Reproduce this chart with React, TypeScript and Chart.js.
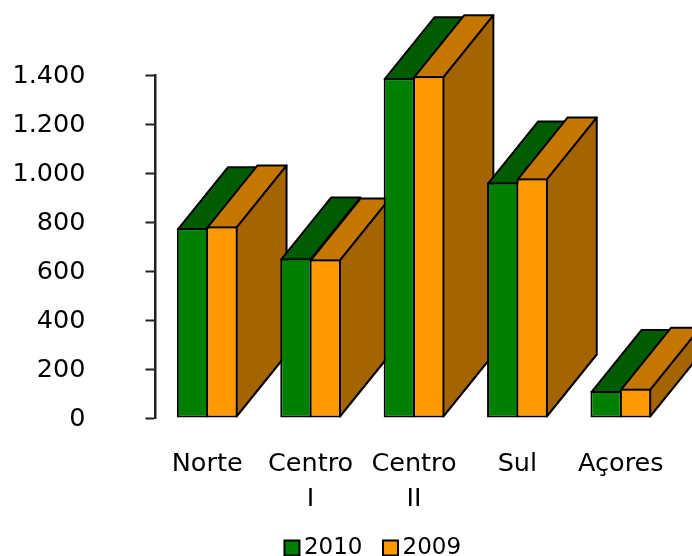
import React, { useEffect, useRef } from "react";
import { Chart, registerables } from "chart.js";

Chart.register(...registerables);

const categories = [["Norte"], ["Centro", "I"], ["Centro", "II"], ["Sul"], ["Açores"]];
const values2010 = [775, 652, 1388, 962, 110];
const values2009 = [782, 648, 1396, 978, 119];
const yTicksMax = 1400;

const legendShift = {
  id: "legendShift",
  afterLayout(chart: any) {
    chart.legend.left += 40;
    chart.legend.right += 40;
  },
};

const depthPlugin = {
  id: "depth",
  beforeDatasetsDraw(chart: any) {
    const ctx = chart.ctx;
    const dx = 50;
    const dy = -62;
    const a = chart.getDatasetMeta(0).data;
    const b = chart.getDatasetMeta(1).data;
    const inset = 1;
    const poly = (pts: number[][], fill: string) => {
      ctx.beginPath();
      pts.forEach((p, i) => (i ? ctx.lineTo(p[0], p[1]) : ctx.moveTo(p[0], p[1])));
      ctx.closePath();
      ctx.fillStyle = fill;
      ctx.fill();
      ctx.stroke();
    };
    ctx.save();
    ctx.strokeStyle = "#000";
    ctx.lineWidth = 2;
    ctx.lineJoin = "round";
    for (let i = 0; i < a.length; i++) {
      const g = a[i];
      const o = b[i];
      const gl = g.x - g.width / 2 + inset;
      const gr = g.x + g.width / 2 - inset;
      const ol = o.x - o.width / 2 + inset;
      const or = o.x + o.width / 2 - inset;
      const gy = g.y + inset;
      const oy = o.y + inset;
      const base = o.base - inset;
      poly([[gl, gy], [gl + dx, gy + dy], [gr + dx, gy + dy], [gr, gy]], "#005c00");
      poly([[ol, oy], [ol + dx, oy + dy], [or + dx, oy + dy], [or, oy]], "#c47600");
      poly([[or, oy], [or + dx, oy + dy], [or + dx, base + dy], [or, base]], "#a46400");
      g.draw(ctx);
      o.draw(ctx);
    }
    ctx.restore();
    return false;
  },
};

export default function App() {
  const ref = useRef<HTMLCanvasElement>(null);
  useEffect(() => {
    const chart = new Chart(ref.current as HTMLCanvasElement, {
      type: "bar",
      data: {
        labels: categories as any,
        datasets: [
          { label: "2010", data: values2010, backgroundColor: "#008000", borderColor: "#000", borderWidth: 2, borderSkipped: false },
          { label: "2009", data: values2009, backgroundColor: "#ff9900", borderColor: "#000", borderWidth: 2, borderSkipped: false },
        ],
      },
      options: {
        responsive: false,
        animation: false,
        devicePixelRatio: 1,
        categoryPercentage: 0.57,
        barPercentage: 1.06,
        layout: { padding: { left: 0, right: 19.5, top: 74, bottom: -13.5 } },
        plugins: {
          tooltip: { enabled: false },
          legend: {
            position: "bottom",
            labels: {
              usePointStyle: true,
              pointStyle: "rect",
              boxWidth: 1,
              boxHeight: 15,
              padding: 27.5,
              color: "#000",
              font: { family: "'DejaVu Sans'", size: 23 },
            },
          },
        },
        scales: {
          x: {
            grid: { display: false },
            border: { display: false },
            afterFit: (s: any) => { s.height = 91; },
            ticks: {
              color: "#000",
              maxRotation: 0,
              autoSkip: false,
              padding: 21,
              font: { family: "'DejaVu Sans'", size: 25.5, lineHeight: 1.37 },
            },
          },
          y: {
            min: 0,
            max: yTicksMax,
            afterFit: (s: any) => { s.width = 155.5; },
            grid: { drawOnChartArea: false, drawTicks: true, tickLength: 10, tickColor: "#222", tickWidth: 2 },
            border: { color: "#222", width: 2.5 },
            ticks: {
              stepSize: 200,
              color: "#000",
              padding: 60,
              labelOffset: 1.5,
              font: { family: "'DejaVu Sans'", size: 25.5 },
              callback: (v: any) => Number(v).toLocaleString("de-DE"),
            },
          },
        },
      } as any,
      plugins: [depthPlugin as any, legendShift as any],
    });
    return () => chart.destroy();
  }, []);
  return (
    <canvas
      ref={ref}
      width={692}
      height={556}
      style={{ position: "absolute", left: 0, top: 0, display: "block" }}
    />
  );
}
